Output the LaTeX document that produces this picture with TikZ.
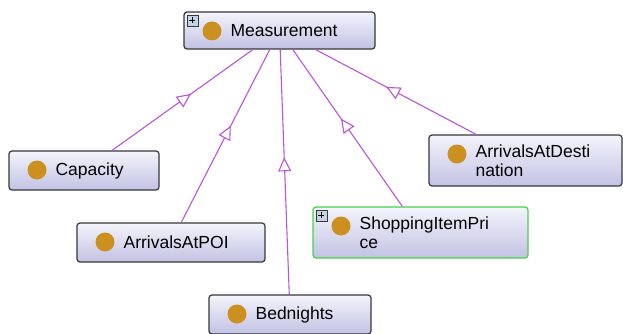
\documentclass[tikz,border=0pt]{standalone}
\usepackage{fontspec}
\setmainfont{Liberation Sans}
\usetikzlibrary{arrows.meta}
\usetikzlibrary{decorations.markings}

\definecolor{boxtop}{RGB}{244,244,252}
\definecolor{boxbot}{RGB}{194,194,228}
\definecolor{boxline}{RGB}{55,55,60}
\definecolor{dotcol}{RGB}{204,144,32}
\definecolor{isacol}{RGB}{186,84,216}
\definecolor{selcol}{RGB}{72,210,72}
\definecolor{plusfill}{RGB}{196,212,228}

\newcommand{\clsfont}{\fontsize{17.5}{19.5}\selectfont}

\tikzset{
 cls/.style={draw=boxline, line width=1.2pt, rounded corners=3pt, top color=boxtop, bottom color=boxbot,
  minimum height=39pt, inner sep=0pt,
  path picture={\fill[dotcol] ([xshift=28pt,yshift=-19pt]path picture bounding box.north west) circle (9.5pt);}},
 clstext/.style={anchor=west, xshift=47pt, inner sep=0pt, align=left, font=\clsfont},
 isa/.style={isacol, line width=1.1pt, postaction={decorate},
  decoration={markings, mark=at position 0.56 with {\arrow{Triangle[length=14pt, width=13pt, fill=white]}}}},
 plusbox/.style={draw=boxline, fill=plusfill, line width=0.7pt}
}

\begin{document}
\begin{tikzpicture}[x=1pt,y=-1pt]
\useasboundingbox (0,0) rectangle (623,334);

\node[cls, minimum width=191pt, minimum height=37pt, label={[clstext]west:Measurement}] (meas) at (279.5,30.5) {};
\node[cls, minimum width=150pt, label={[clstext]west:Capacity}] (cap) at (84,170.5) {};
\node[cls, minimum width=188pt, label={[clstext]west:ArrivalsAtPOI}] (poi) at (171,242.5) {};
\node[cls, minimum width=162pt, label={[clstext]west:Bednights}] (bed) at (290,314.5) {};
\node[cls, draw=selcol, minimum width=215pt, minimum height=51pt, label={[clstext]west:{ShoppingItemPri\\ce}}] (shop) at (420.5,232.5) {};
\node[cls, minimum width=193pt, minimum height=51pt, label={[clstext]west:{ArrivalsAtDesti\\nation}}] (dest) at (525.5,160.5) {};

\foreach \n in {meas,shop} {
 \draw[plusbox] ([shift={(3.5,3.5)}]\n.north west) rectangle ++(11,11);
 \draw[line width=0.9pt] ([shift={(6,9)}]\n.north west) -- ++(6,0) ([shift={(9,6)}]\n.north west) -- ++(0,6);
}

\foreach \n in {cap,poi,bed,shop,dest}
 \draw[isa] (\n) -- (meas);
\end{tikzpicture}
\end{document}
